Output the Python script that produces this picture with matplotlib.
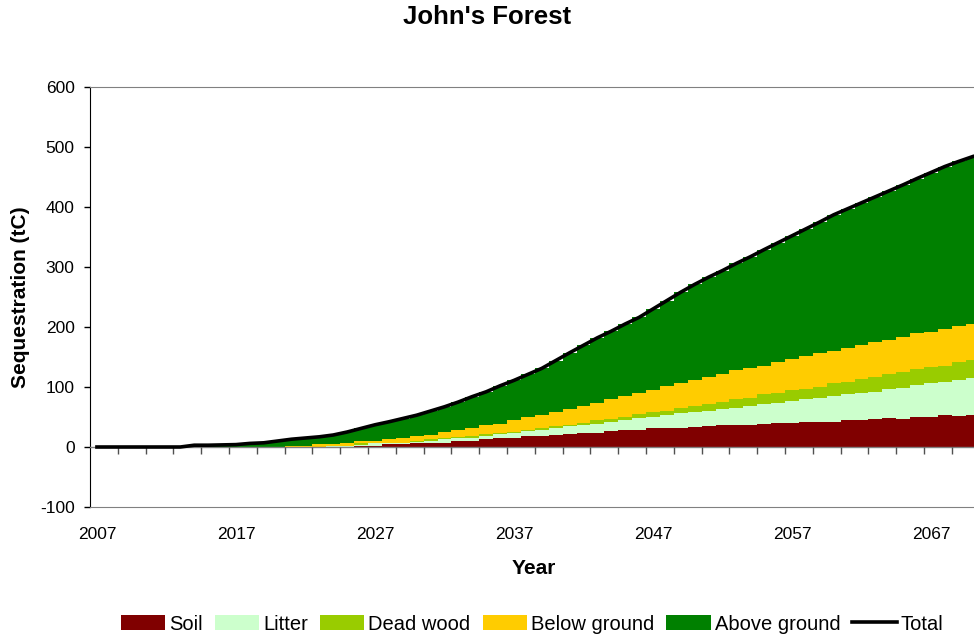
import numpy as np
import matplotlib
matplotlib.use("Agg")
import matplotlib.pyplot as plt
from matplotlib.patches import Patch
from matplotlib.lines import Line2D

plt.rcParams['font.family'] = ['Liberation Sans', 'DejaVu Sans']
plt.rcParams['axes.unicode_minus'] = False

# Carbon pools per year (tC)
years = list(range(2007, 2071))

soil = [0, 0, 0, 0, 0, 0, 0, 0, 0, 0, 0, 0, 0, 0, 0, 0, 0, 0, 0.5, 1, 1.5,
        4.4, 5, 6, 7.2, 7.2, 10.6, 10.6, 12.8, 15.6, 15.6, 18.3, 18, 19.5,
        21.7, 23.5, 23.5, 26.7, 28.3, 28.3, 31.7, 31.7, 31.7, 33.9, 35, 36.7,
        36.7, 36.7, 37.8, 39.4, 39.4, 41.7, 41.7, 41.7, 45, 45, 46.7, 48.3,
        46.7, 50.6, 50.6, 53.3, 52.2, 53.3]
litter = [0, 0, 0, 0, 0, 0, 0, 0, 0, 0, 0, 0, 0, 0, 0, 0, 0, 1.5, 1, 2, 4.5,
          1.6, 1, 2, 3.4, 6.1, 3.8, 5, 6.2, 5.4, 8.4, 8.4, 10.3, 12, 12.8,
          13.5, 15.5, 15.3, 16.7, 19.5, 18.9, 21.6, 24.3, 24.4, 25.6, 26.1,
          28.9, 31.6, 33.9, 34.5, 37.3, 37.7, 40.3, 43.9, 42.8, 44.4, 45.3,
          47.7, 52.3, 52.4, 55.4, 55.7, 59.5, 62.3]
dead_wood = [0, 0, 0, 0, 0, 0, 0, 0, 0, 0, 0, 0, 0, 0, 0, 0, 0, 0, 0.5, 3,
             0.5, 1, 1, 2, 2.7, 2.2, 1.6, 3.4, 2.7, 3, 1.6, 1.6, 2.7, 3, 3,
             3.6, 5.5, 4.5, 5.3, 6.6, 7.2, 6.7, 8.4, 10, 11.1, 12.8, 13.8,
             13.7, 16.1, 15.5, 17.7, 17.3, 18.6, 20.4, 20, 24.6, 24, 25, 25.4,
             27, 28, 26.6, 30.3, 29.4]
below_ground = [0, 0, 0, 0, 0, 0, 0, 0, 0, 0, 0, 0, 0, 0, 1, 1, 5, 3.5, 5, 4,
                3.5, 6.3, 8.6, 9, 6.7, 9.5, 12.3, 13, 15, 14.3, 19.4, 21.7, 23,
                23.5, 25.5, 27.4, 28.5, 33.5, 34.7, 35, 37.2, 41.7, 41.6, 43.4,
                44.3, 45.4, 48.6, 49, 47.2, 51.6, 51.6, 55, 55.4, 54, 56.6, 56,
                58.4, 57, 58.6, 60.6, 58, 61.1, 59.7, 60]
above_ground = [0, 0, 0, 0, 0, 0, 0, 3, 3, 3.5, 4, 6, 7, 10, 12, 14, 12, 15,
                18, 21, 27, 28.7, 31.9, 34, 40, 42, 46.7, 52, 55.3, 63.7, 66,
                71, 77, 86, 94, 101.5, 109, 113, 120, 126.6, 135, 142.3, 152,
                159.3, 167, 173, 178, 186, 194, 199.5, 206, 211.8, 219, 227,
                232.6, 237, 242.6, 249, 254, 256.9, 265.5, 270.8, 274.3, 279]

pools = [
    ("Soil", soil, "#800000"),
    ("Litter", litter, "#CCFFCC"),
    ("Dead wood", dead_wood, "#99CC00"),
    ("Below ground", below_ground, "#FFCC00"),
    ("Above ground", above_ground, "#008000"),
]

x = np.arange(len(years))
total = np.sum([np.array(p[1]) for p in pools], axis=0)

fig = plt.figure(figsize=(9.74, 6.41), dpi=100)
ax = fig.add_axes([90 / 974, 1 - 507 / 641, 889.6 / 974, 420 / 641])

# Stacked columns with no gap between years
bottom = np.zeros(len(years))
for name, vals, color in pools:
    ax.bar(x, vals, width=1.0, bottom=bottom, color=color,
           linewidth=0, antialiased=False, zorder=2)
    bottom += np.array(vals)

ax.plot(x, total, color="black", linewidth=2.6, zorder=4,
        solid_joinstyle="round")

# Axes styling
ax.set_xlim(-0.5, len(years) - 0.5)
ax.set_ylim(-100, 600)
ax.set_yticks(range(-100, 601, 100))
ax.tick_params(axis="y", direction="out", length=4, width=1,
               labelsize=12.5, pad=7)
ax.set_xticks([])
for side in ["top", "bottom"]:
    ax.spines[side].set_color("#808080")
ax.spines["right"].set_visible(False)
ax.spines["left"].set_color("black")

# Zero line with tick marks every two years
ax.axhline(0, color="#808080", linewidth=1, zorder=3)
tick_pos = np.arange(1.5, len(years), 2)
ax.plot(tick_pos, np.zeros(len(tick_pos)), linestyle="none", marker=3,
        markersize=5, color="#505050", zorder=3, clip_on=False)

# Year labels every ten years at the bottom
for i in range(0, len(years), 10):
    ax.annotate(str(years[i]), xy=(i, 0), xycoords=ax.get_xaxis_transform(),
                xytext=(0, -14.5), textcoords="offset points",
                ha="center", va="top", fontsize=12.5)

fig.text(0.5, 1 - 17 / 641, "John's Forest", ha="center", va="center",
         fontsize=18.5, fontweight="bold")
fig.text(534 / 974, 1 - 568 / 641, "Year", ha="center", va="center",
         fontsize=15, fontweight="bold")
fig.text(21 / 974, 1 - 297 / 641, "Sequestration (tC)", ha="center",
         va="center", rotation=90, fontsize=15, fontweight="bold")

handles = [Patch(facecolor=c, edgecolor="none", label=n) for n, _, c in pools]
handles.append(Line2D([0], [0], color="black", linewidth=2.6, label="Total"))
fig.legend(handles=handles, loc="center", bbox_to_anchor=(532 / 974, 1 - 624 / 641),
           ncol=6, frameon=False, fontsize=14.5, handlelength=2.2,
           handleheight=0.75, handletextpad=0.2, columnspacing=0.6,
           borderaxespad=0, borderpad=0)

fig.savefig("out.png", dpi=100)
